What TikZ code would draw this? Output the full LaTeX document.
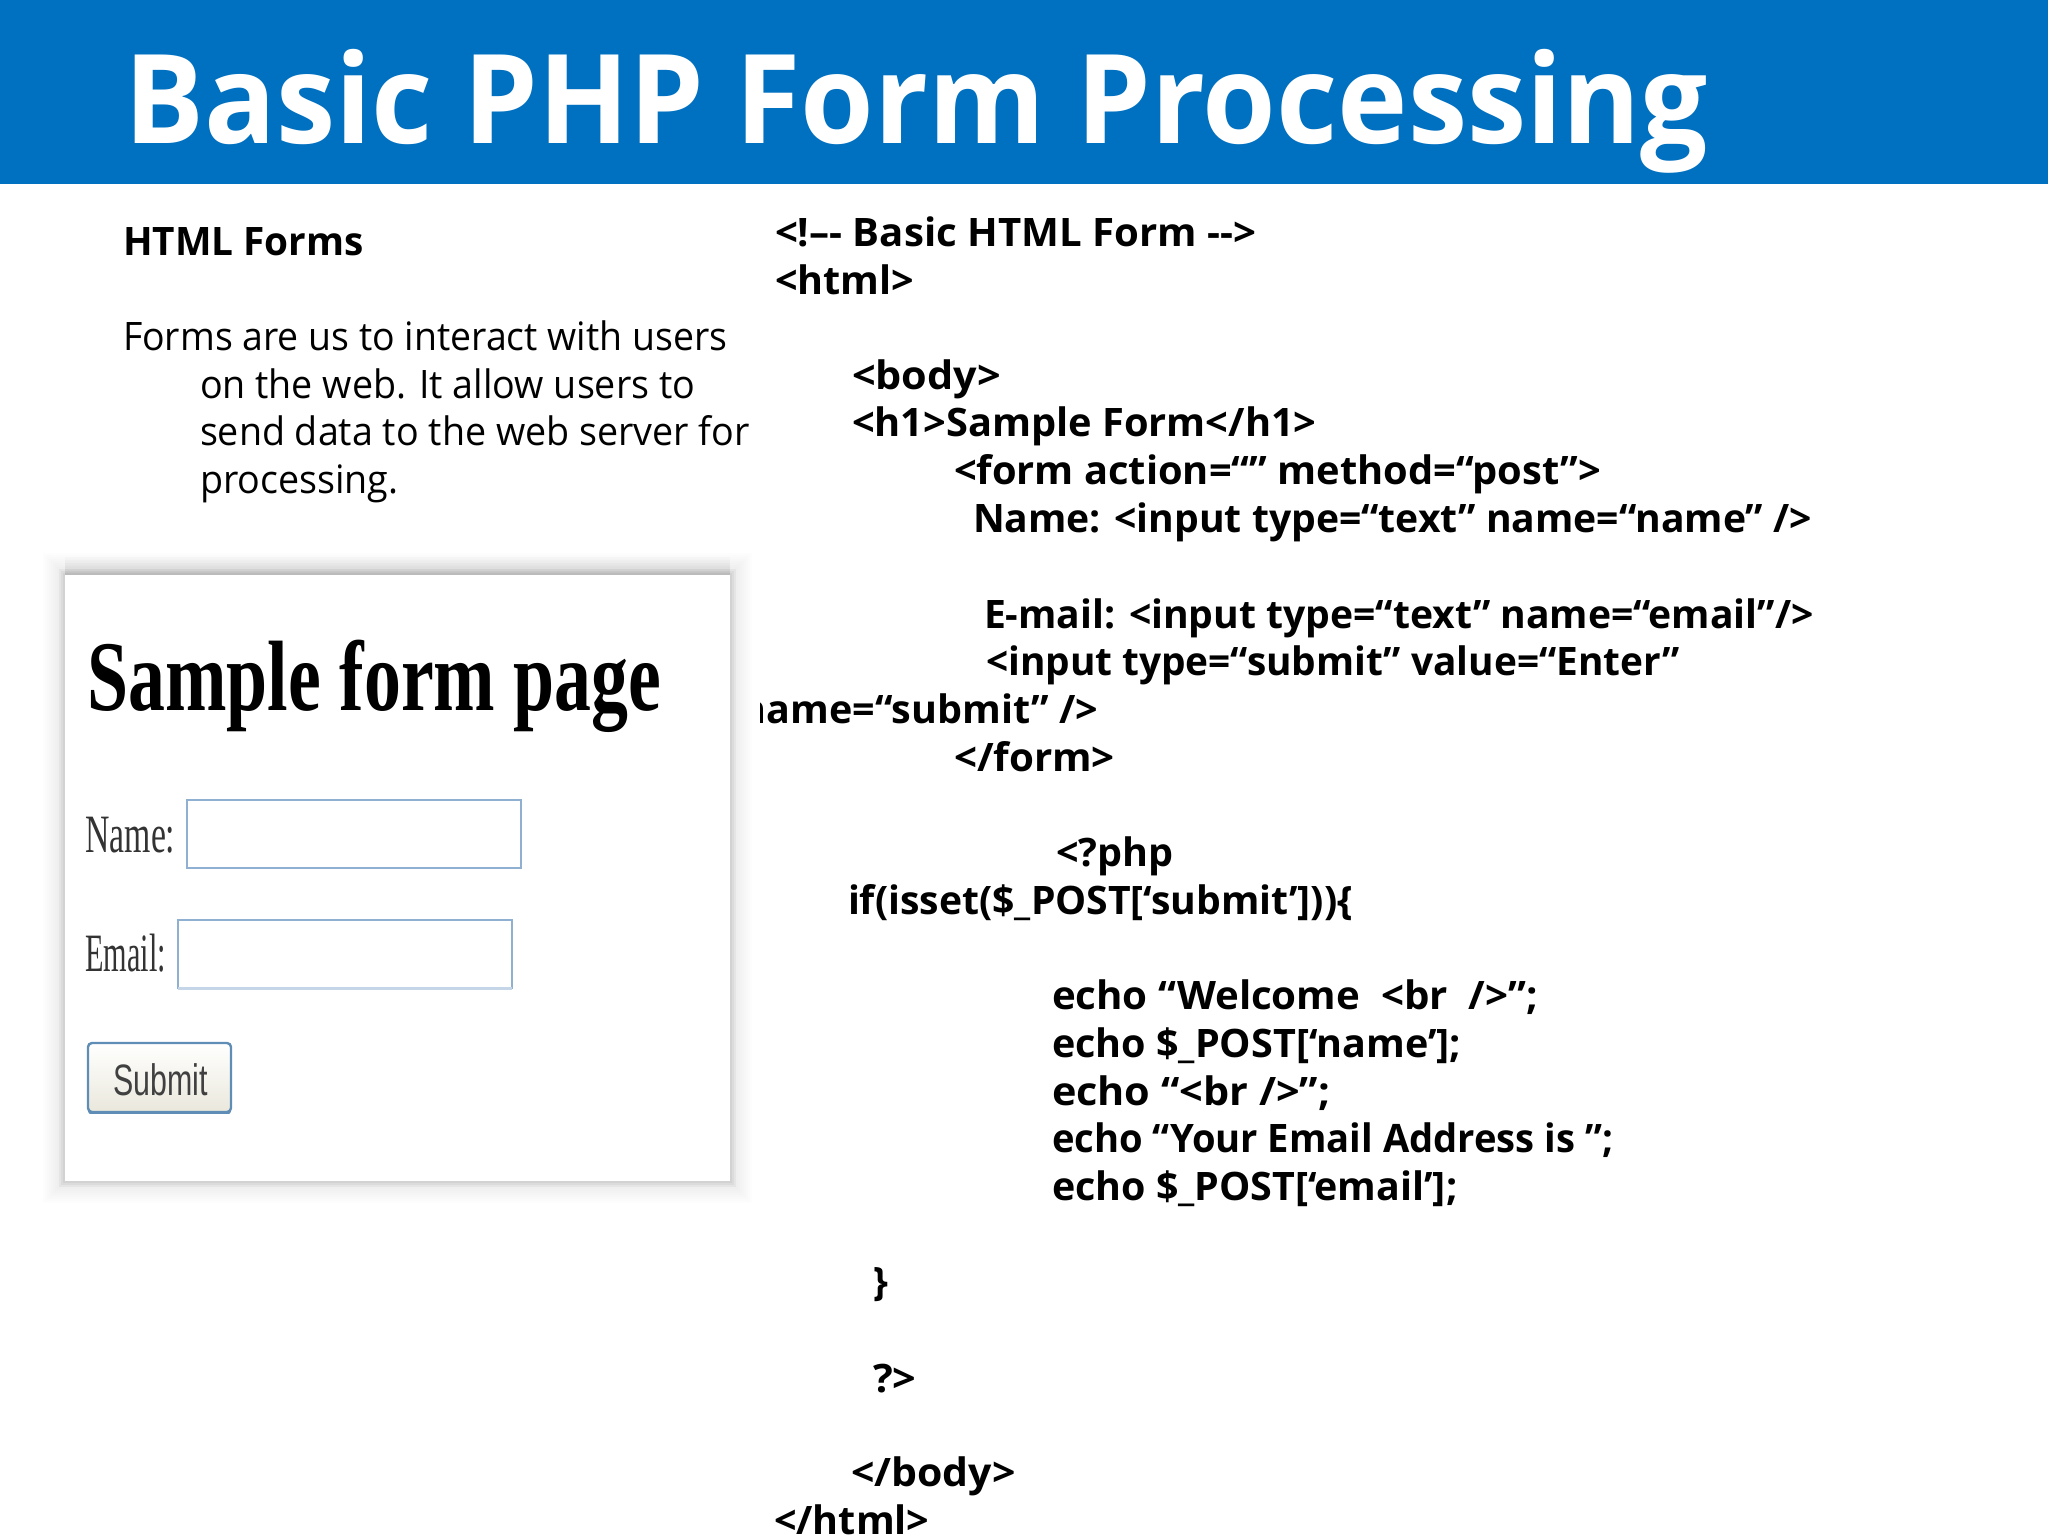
\documentclass[tikz,border=0pt]{standalone}
\usepackage{fontspec}
\newfontfamily\slidefont[FakeStretch=0.96]{Open Sans}
\newfontfamily\serifform{Liberation Serif}
\newfontfamily\sansform{Liberation Sans}
\newcommand{\gapsp}{\hspace{0.5em}}
\newcommand{\sx}[2]{\scalebox{#1}[1]{#2}}
\definecolor{headblue}{HTML}{0070C0}
\definecolor{fieldblue}{HTML}{8FB0D0}
\definecolor{fieldpale}{HTML}{C4D6E8}
\definecolor{buttonblue}{HTML}{5F8DB5}
\definecolor{buttonlow}{HTML}{EAE8DC}
\tikzset{
  x=0.5pt,y=-0.5pt,
  txt/.style={anchor=base west,inner sep=0pt,outer sep=0pt,font=\slidefont\fontsize{19.6}{24}\selectfont,text=black},
  code/.style={txt,font=\slidefont\bfseries\fontsize{19.6}{24}\selectfont},
  field/.style={draw=fieldblue,line width=1pt,fill=white},
  formtext/.style={inner sep=0pt,anchor=base west,font=\serifform\fontsize{27}{30}\selectfont,text=black!80},
}
\begin{document}
\begin{tikzpicture}
\useasboundingbox (0,0) rectangle (2048,1536);
\fill[white] (0,0) rectangle (2048,1536);
\fill[headblue] (0,0) rectangle (2048,184);
\node[anchor=base west,inner sep=0pt,text=white,font=\slidefont\bfseries\fontsize{62}{70}\selectfont] (title) at (124,143) {Basic PHP Form Processing};
% left text
\node[code] (t1) at (123,255) {\sx{1.03}{HTML Forms}};
\node[txt] (t2) at (123,350) {\sx{0.995}{Forms are us to interact with users}};
\node[txt] (t3) at (200,398) {on the web. It allow users to};
\node[txt] (t4) at (200,445) {send data to the web server for};
\node[txt] (t5) at (200,493) {processing.};
% code
\node[code] (c1) at (775,246) {\sx{1.067}{<!–- Basic HTML Form -->}};
\node[code] (c2) at (775,294) {\sx{1.05}{<html>}};
\node[code] (c3) at (852,389.5) {\sx{1.10}{<body>}};
\node[code] (c4) at (852,436.5) {\sx{1.057}{<h1>Sample Form</h1>}};
\node[code] (c5) at (954,484.5) {\sx{1.058}{<form action=“” method=“post”>}};
\node[code] (c6) at (973,532) {\sx{1.039}{Name: <input type=“text” name=“name” />}};
\node[code] (c7) at (984,628.5) {\sx{1.039}{E-mail: <input type=“text” name=“email”/>}};
\node[code] (c8) at (986,675.5) {\sx{1.031}{<input type=“submit” value=“Enter”}};
\node[code,anchor=base east] (c9) at (1098,723.5) {\sx{1.05}{name=“submit” />}};
\node[code] (c10) at (954,771.5) {\sx{1.07}{</form>}};
\node[code] (c11) at (1056,866.5) {\sx{1.05}{<?php}};
\node[code] (c12) at (848,914.5) {\sx{1.04}{if(isset(\$\_POST[‘submit’]))\{}};
\node[code] (c13) at (1052,1009.5) {\sx{1.07}{echo “Welcome\gapsp<br\gapsp/>”;}};
\node[code] (c14) at (1052,1057.5) {\sx{1.05}{echo \$\_POST[‘name’];}};
\node[code] (c15) at (1052,1105.5) {\sx{1.10}{echo “<br />”;}};
\node[code] (c16) at (1052,1152.5) {\sx{1.014}{echo “Your Email Address is ”;}};
\node[code] (c17) at (1052,1200.5) {\sx{1.047}{echo \$\_POST[‘email’];}};
\node[code] (c18) at (873,1295.5) {\}};
\node[code] (c19) at (873,1392.5) {\sx{1.10}{?>}};
\node[code] (c20) at (851,1486.5) {\sx{1.09}{</body>}};
\node[code] (c21) at (774,1534.5) {\sx{1.05}{</html>}};
% form screenshot
\fill[white] (30,540) rectangle (760,1210);
\foreach \g in {22,20,...,2}{
  \fill[black,opacity=0.006] (65-\g,575-\g) rectangle (730+\g,1181+\g);
}
\foreach \g in {6,4,2}{
  \fill[black,opacity=0.03] (65-\g,575-\g) rectangle (730+\g,1181+\g);
}
\foreach \t in {18,15,12,9,6,3}{
  \fill[black,opacity=0.014] (65,575-\t) rectangle (730,575);
}
\fill[white] (65,575) rectangle (730,1181);
\node[inner sep=0pt,anchor=base west,font=\serifform\bfseries\fontsize{50}{56}\selectfont] (fh) at (87,710) {\sx{0.738}{Sample form page}};
\node[formtext] (fn) at (85,852) {\sx{0.625}{Name:}};
\draw[field] (187,800) rectangle (521,868);
\node[formtext] (fe) at (85,971) {\sx{0.56}{Email:}};
\draw[field] (178,920) rectangle (512,988);
\draw[fieldpale,line width=1.2pt] (178,988.5) -- (512,988.5);
\draw[draw=buttonblue,line width=1.2pt,rounded corners=2pt,top color=white,bottom color=buttonlow] (88,1043) rectangle (231,1112);
\draw[buttonblue,line width=1.6pt,line cap=round] (90,1112.5) -- (229,1112.5);
\node[inner sep=0pt,anchor=base west,font=\sansform\fontsize{22}{26}\selectfont,text=black!75] (fs) at (113,1095) {\sx{0.69}{Submit}};
\end{tikzpicture}
\end{document}
